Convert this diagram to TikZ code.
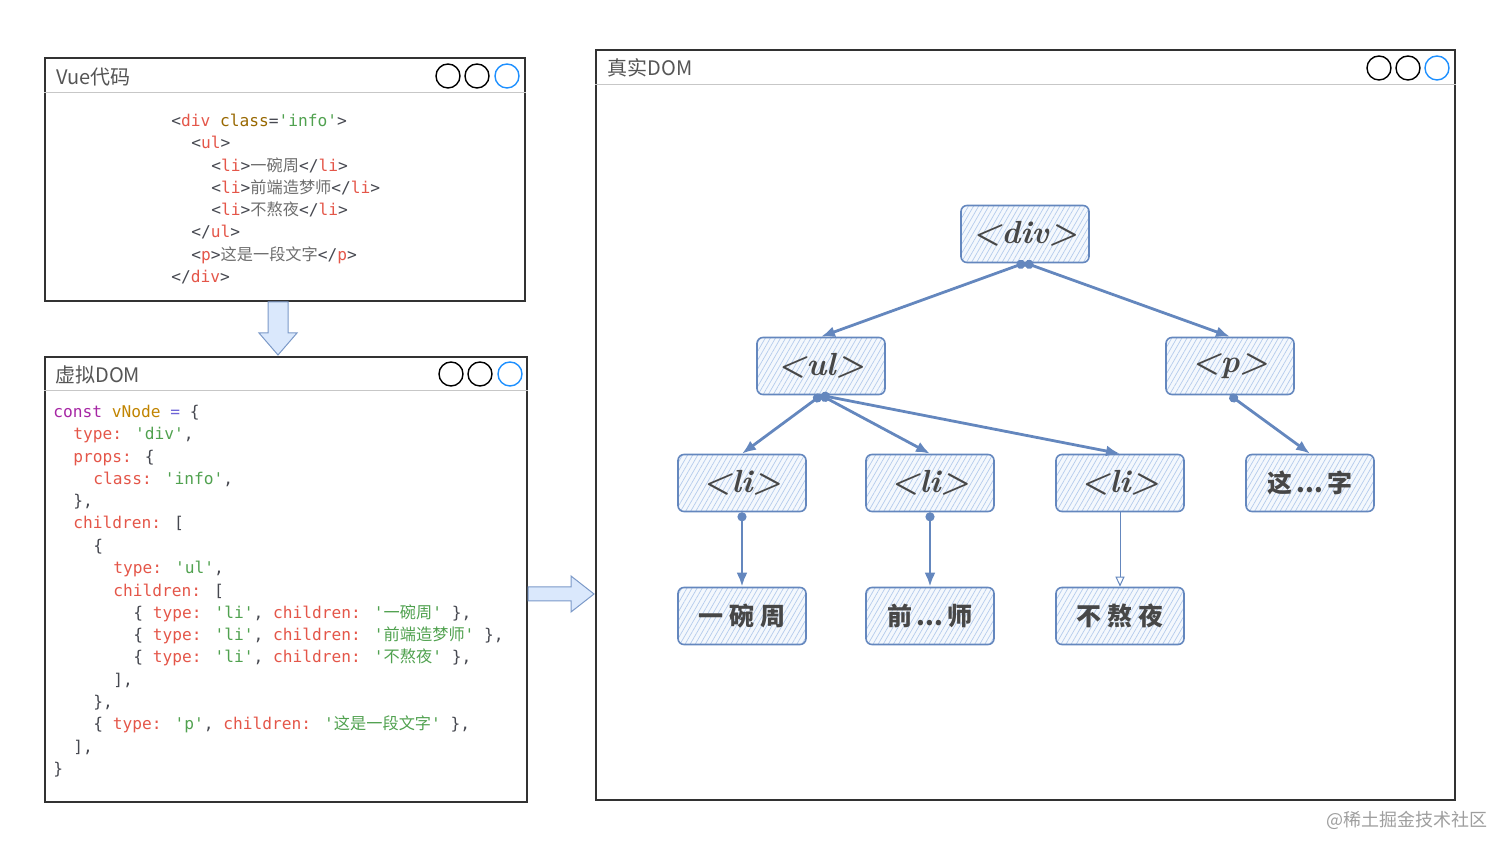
\documentclass[tikz,border=0pt]{standalone}
\usepackage{fontspec}
\usepackage{xcolor}
\usetikzlibrary{arrows.meta,patterns.meta}
\newfontfamily\codefont{DejaVu Sans Mono}
\newfontfamily\cjk{Noto Sans CJK SC}
\definecolor{codegray}{RGB}{70,72,80}
\definecolor{zhgray}{RGB}{110,110,110}
\definecolor{tagred}{RGB}{228,86,73}
\definecolor{strgreen}{RGB}{80,161,79}
\definecolor{kwpurple}{RGB}{166,38,164}
\definecolor{varolive}{RGB}{193,132,1}
\definecolor{attrolive}{RGB}{152,104,1}
\definecolor{opblue}{RGB}{110,100,215}
\definecolor{nodeblue}{RGB}{100,135,190}
\definecolor{hatchblue}{RGB}{180,203,236}
\definecolor{hatchbg}{RGB}{244,248,253}
\definecolor{arrowfill}{RGB}{218,232,252}
\definecolor{framegray}{RGB}{50,50,50}
\definecolor{titlegray}{RGB}{85,85,85}
\definecolor{btnblue}{RGB}{30,144,255}
\newcommand{\tagc}[1]{\textcolor{tagred}{#1}}
\newcommand{\strc}[1]{\textcolor{strgreen}{#1}}
\newcommand{\keyc}[1]{\textcolor{tagred}{#1}}
\newcommand{\kwc}[1]{\textcolor{kwpurple}{#1}}
\newcommand{\varc}[1]{\textcolor{varolive}{#1}}
\newcommand{\attrc}[1]{\textcolor{attrolive}{#1}}
\newcommand{\opc}[1]{\textcolor{opblue}{#1}}
\newcommand{\zh}[1]{{\cjk #1}}
\newcommand{\zhg}[1]{\textcolor{zhgray}{\zh{#1}}}

\begin{document}
\begin{tikzpicture}[x=0.5pt,y=-0.5pt,
  panel/.style={draw=framegray, line width=0.7pt, inner sep=0pt},
  headline/.style={draw=black!22, line width=0.7pt},
  title/.style={anchor=west, inner sep=0pt, text=titlegray, font=\cjk\fontsize{10}{10}\selectfont},
  btn/.style={draw=black, line width=0.7pt},
  code/.style={anchor=base west, inner sep=0pt, text=codegray, font=\codefont\fontsize{8.1}{10}\selectfont},
  domnode/.style={draw=nodeblue, line width=0.8pt, rounded corners=3pt,
    minimum width=64pt, minimum height=28.5pt, preaction={fill=hatchbg},
    pattern={Lines[angle=60,distance=2.2pt,line width=0.35pt]}, pattern color=hatchblue,
    text=black!72, font=\bfseries\itshape\fontsize{16}{16}\selectfont},
  zhnode/.style={domnode, font=\cjk\bfseries\fontsize{12.5}{12.5}\selectfont},
  link/.style={draw=nodeblue, line width=1.4pt, {Circle[length=4.5pt]}-{Latex[length=7pt,width=5.5pt]}},
  thinlink/.style={draw=nodeblue, line width=0.5pt, -{Triangle[open,length=5pt,width=4.5pt]}},
  bigarrow/.style={draw=nodeblue!85, fill=arrowfill, line width=0.5pt}]
\useasboundingbox (0,0) rectangle (1512,854);

% Vue code panel
\node[panel, minimum width=240pt, minimum height=121.5pt] (vuebox) at (285,179.5) {};
\draw[headline] ([yshift=-17.5pt]vuebox.north west) -- ([yshift=-17.5pt]vuebox.north east);
\node[title] (vuetitle) at (56,77) {Vue代码};
\draw[btn] (448,76) circle (6pt);
\draw[btn] (477,76) circle (6pt);
\draw[btn, draw=btnblue] (507,76) circle (6pt);
\node[code] (v1) at (171,127) {<\tagc{div} \attrc{class}=\strc{'info'}>};
\node[code] (v2) at (191,149) {<\tagc{ul}>};
\node[code] (v3) at (211,172) {<\tagc{li}>\zhg{一碗周}</\tagc{li}>};
\node[code] (v4) at (211,194) {<\tagc{li}>\zhg{前端造梦师}</\tagc{li}>};
\node[code] (v5) at (211,216) {<\tagc{li}>\zhg{不熬夜}</\tagc{li}>};
\node[code] (v6) at (191,238) {</\tagc{ul}>};
\node[code] (v7) at (191,261) {<\tagc{p}>\zhg{这是一段文字}</\tagc{p}>};
\node[code] (v8) at (171,283) {</\tagc{div}>};

% arrow down
\draw[bigarrow] (268,302) -- (268,333) -- (259,333) -- (278,355) -- (297,333) -- (288,333) -- (288,302) -- cycle;

% virtual DOM panel
\node[panel, minimum width=241pt, minimum height=222.5pt] (vdombox) at (286,579.5) {};
\draw[headline] ([yshift=-17pt]vdombox.north west) -- ([yshift=-17pt]vdombox.north east);
\node[title] (vdomtitle) at (55,375) {虚拟DOM};
\draw[btn] (451,374) circle (6pt);
\draw[btn] (480,374) circle (6pt);
\draw[btn, draw=btnblue] (510,374) circle (6pt);
\node[code] (d1) at (53,418) {\kwc{const} \varc{vNode} \opc{=} \{};
\node[code] (d2) at (73,440) {\keyc{type:} \strc{'div'},};
\node[code] (d3) at (73,463) {\keyc{props:} \{};
\node[code] (d4) at (93,485) {\keyc{class:} \strc{'info'},};
\node[code] (d5) at (73,507) {\},};
\node[code] (d6) at (73,529) {\keyc{children:} [};
\node[code] (d7) at (93,552) {\{};
\node[code] (d8) at (113,574) {\keyc{type:} \strc{'ul'},};
\node[code] (d9) at (113,597) {\keyc{children:} [};
\node[code] (d10) at (133,619) {\{ \keyc{type:} \strc{'li'}, \keyc{children:} \strc{'\zh{一碗周}'} \},};
\node[code] (d11) at (133,641) {\{ \keyc{type:} \strc{'li'}, \keyc{children:} \strc{'\zh{前端造梦师}'} \},};
\node[code] (d12) at (133,663) {\{ \keyc{type:} \strc{'li'}, \keyc{children:} \strc{'\zh{不熬夜}'} \},};
\node[code] (d13) at (113,686) {],};
\node[code] (d14) at (93,708) {\},};
\node[code] (d15) at (93,730) {\{ \keyc{type:} \strc{'p'}, \keyc{children:} \strc{'\zh{这是一段文字}'} \},};
\node[code] (d16) at (73,753) {],};
\node[code] (d17) at (53,775) {\}};

% arrow right
\draw[bigarrow] (528,587) -- (571,587) -- (571,576) -- (594,594) -- (571,612) -- (571,601) -- (528,601) -- cycle;

% real DOM panel
\node[panel, minimum width=429.5pt, minimum height=375pt] (realbox) at (1025.5,425) {};
\draw[headline] ([yshift=-17.5pt]realbox.north west) -- ([yshift=-17.5pt]realbox.north east);
\node[title] (realtitle) at (607,68) {真实DOM};
\draw[btn] (1379,68) circle (6pt);
\draw[btn] (1408,68) circle (6pt);
\draw[btn, draw=btnblue] (1437,68) circle (6pt);

\node[domnode] (ndiv) at (1025,234) {<div>};
\node[domnode] (nul) at (821,366) {<ul>};
\node[domnode] (np) at (1230,366) {<p>};
\node[domnode] (nli1) at (742,483) {<li>};
\node[domnode] (nli2) at (930,483) {<li>};
\node[domnode] (nli3) at (1120,483) {<li>};
\node[zhnode] (ntxt) at (1310,483) {这\hspace{2pt}...\hspace{2pt}字};
\node[zhnode] (nyi) at (742,616) {一\hspace{3pt}碗\hspace{3pt}周};
\node[zhnode] (nqian) at (930,616) {前\hspace{2pt}...\hspace{2pt}师};
\node[zhnode] (nbu) at (1120,616) {不\hspace{3pt}熬\hspace{3pt}夜};

\draw[link] (ndiv.south) -- (nul.north);
\draw[link] (ndiv.south) -- (np.north);
\draw[link] (nul.south) -- (nli1.north);
\draw[link] (nul.south) -- (nli2.north);
\draw[link] (nul.south) -- (nli3.north);
\draw[link] (np.south) -- (ntxt.north);
\draw[link] (nli1.south) -- (nyi.north);
\draw[link] (nli2.south) -- (nqian.north);
\draw[thinlink] (nli3.south) -- (nbu.north);

\node[anchor=east, inner sep=0pt, text=black!38, font=\cjk\fontsize{9}{9}\selectfont] (mark) at (1488,820) {@稀土掘金技术社区};
\end{tikzpicture}
\end{document}
